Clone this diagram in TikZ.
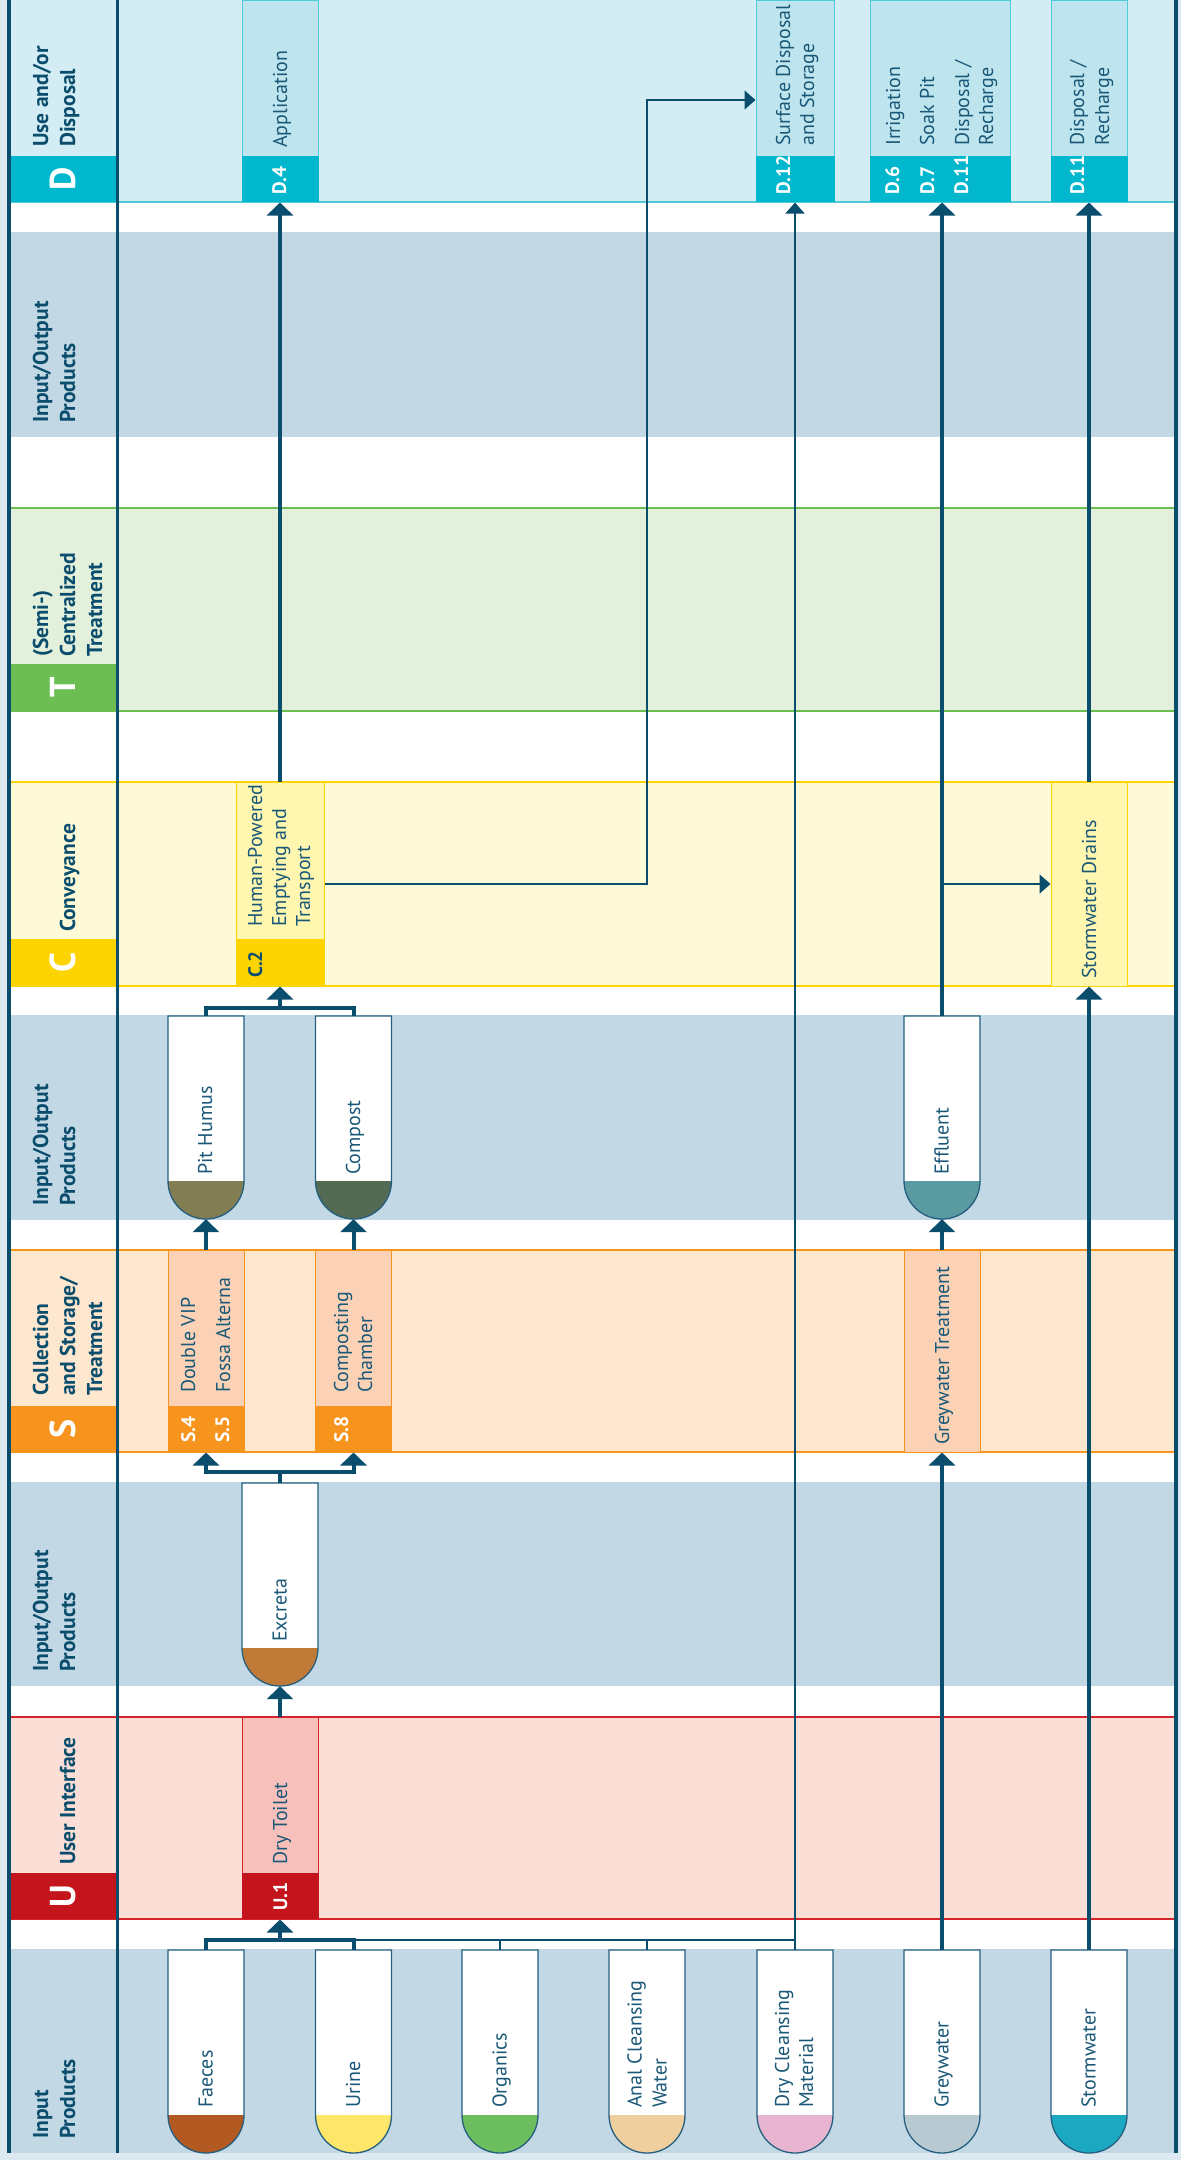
\documentclass[tikz,border=0pt]{standalone}
\usepackage{fontspec}
\setmainfont{PT Sans}
\usetikzlibrary{arrows.meta,fit}
\definecolor{frame}{HTML}{DDE9F1}
\definecolor{navy}{HTML}{0B4D6D}
\definecolor{txt}{HTML}{1A5878}
\definecolor{capedge}{HTML}{245F80}
\definecolor{ioband}{HTML}{C2D8E5}
\definecolor{dband}{HTML}{D4EDF4}
\definecolor{dline}{HTML}{4FCADB}
\definecolor{dlab}{HTML}{00B7CD}
\definecolor{dbox}{HTML}{BEE4ED}
\definecolor{tband}{HTML}{E3F0DC}
\definecolor{tline}{HTML}{6DBE52}
\definecolor{cband}{HTML}{FEFAD7}
\definecolor{cline}{HTML}{FDD300}
\definecolor{cbox}{HTML}{FFF6B0}
\definecolor{sband}{HTML}{FEE7CF}
\definecolor{sline}{HTML}{F7941E}
\definecolor{sbox}{HTML}{FBD2B6}
\definecolor{uband}{HTML}{FBDED5}
\definecolor{uline}{HTML}{D7232C}
\definecolor{ulab}{HTML}{C4141C}
\definecolor{ubox}{HTML}{F8C0BA}
\definecolor{cfaeces}{HTML}{B35A22}
\definecolor{curine}{HTML}{FEE66A}
\definecolor{corganics}{HTML}{6CBE5E}
\definecolor{canal}{HTML}{F0CF9F}
\definecolor{cdry}{HTML}{E8B5D0}
\definecolor{cgrey}{HTML}{B8C9D1}
\definecolor{cstorm}{HTML}{1DA8C1}
\definecolor{cexcreta}{HTML}{C07A38}
\definecolor{chumus}{HTML}{827D52}
\definecolor{ccompost}{HTML}{546A53}
\definecolor{ceffluent}{HTML}{5A9BA1}
\tikzset{
  bdtxt/.style={rotate=90,anchor=base west,inner sep=0pt,text=txt,font=\fontsize{20}{24}\selectfont},
  hdtxt/.style={rotate=90,anchor=base west,inner sep=0pt,text=navy,font=\fontsize{21.5}{25}\selectfont\bfseries},
  cdtxt/.style={rotate=90,anchor=base west,inner sep=0pt,text=white,font=\fontsize{19.5}{23}\selectfont\bfseries},
  bigletter/.style={rotate=90,anchor=center,inner sep=0pt,text=white,font=\fontsize{36}{40}\selectfont\bfseries},
  flow/.style={draw=navy,line width=4pt},
  thinflow/.style={draw=navy,line width=1.5pt},
  bigtip/.style={-{Triangle[width=26pt,length=13pt]}},
  smalltip/.style={-{Triangle[width=19pt,length=11pt]}},
  capline/.style={draw=capedge,line width=1.3pt},
}
% capsule: name, centre x, top y, bottom y, colour
\newcommand\mkcap[5]{%
  \node[inner sep=0pt,fit={({#2-38},#3) ({#2+38},#4)}] (#1) {};
  \fill[white] ({#2-38},#3) rectangle ({#2+38},{#4-38});
  \fill[#5] ({#2-38},{#4-38}) arc[start angle=180,end angle=0,radius=38] -- cycle;
  \draw[capline] ({#2-38},#3) -- ({#2-38},{#4-38}) arc[start angle=180,end angle=0,radius=38] -- ({#2+38},#3) -- cycle;}
% technology box: name, xl, yt, xr, yb, fill, border
\newcommand\mktbox[7]{%
  \node[draw=#7,fill=#6,line width=1pt,inner sep=0pt,fit={(#2,#3) (#4,#5)}] (#1) {};}
\begin{document}
\begin{tikzpicture}[x=1pt,y=-1pt]
\useasboundingbox (0,0) rectangle (1181,2160);
\fill[frame] (0,0) rectangle (1181,2160);
\fill[white] (9,0) rectangle (1177,2153);
% bands
\fill[dband] (11,0) rectangle (1176,202);
\draw[dline,line width=1.5pt] (11,202) -- (1176,202);
\fill[ioband] (11,232) rectangle (1176,437);
\fill[tband] (11,508) rectangle (1176,711);
\draw[tline,line width=1.5pt] (11,508) -- (1176,508) (11,711) -- (1176,711);
\fill[cband] (11,782) rectangle (1176,986);
\draw[cline,line width=1.5pt] (11,782) -- (1176,782) (11,986) -- (1176,986);
\fill[ioband] (11,1015) rectangle (1176,1220);
\fill[sband] (11,1250) rectangle (1176,1452);
\draw[sline,line width=1.5pt] (11,1250) -- (1176,1250) (11,1452) -- (1176,1452);
\fill[ioband] (11,1482) rectangle (1176,1686);
\fill[uband] (11,1717) rectangle (1176,1919);
\draw[uline,line width=1.5pt] (11,1717) -- (1176,1717) (11,1919) -- (1176,1919);
\fill[ioband] (11,1949) rectangle (1176,2153);
% header label blocks
\fill[dlab] (11,156) rectangle (116,202);
\fill[tline] (11,664) rectangle (116,711);
\fill[cline] (11,939) rectangle (116,986);
\fill[sline] (11,1406) rectangle (116,1452);
\fill[ulab] (11,1873) rectangle (116,1919);
% technology boxes
\mktbox{d4}{242}{0}{318}{202}{dbox}{dline}
\fill[dlab] (241.5,156) rectangle (318.5,202);
\mktbox{d12}{756}{0}{834}{202}{dbox}{dline}
\fill[dlab] (755.5,156) rectangle (834.5,202);
\mktbox{d6}{870}{0}{1010}{202}{dbox}{dline}
\fill[dlab] (869.5,156) rectangle (1010.5,202);
\mktbox{d11}{1051}{0}{1127}{202}{dbox}{dline}
\fill[dlab] (1050.5,156) rectangle (1127.5,202);
\mktbox{c2}{236}{782}{324}{986}{cbox}{cline}
\fill[cline] (235.5,939) rectangle (324.5,986);
\mktbox{sd}{1051}{782}{1127}{986}{cbox}{cline}
\mktbox{s45}{168}{1250}{244}{1452}{sbox}{sline}
\fill[sline] (167.5,1406) rectangle (244.5,1452);
\mktbox{s8}{315.5}{1250}{391.5}{1452}{sbox}{sline}
\fill[sline] (315,1406) rectangle (392,1452);
\mktbox{gt}{904}{1250}{980}{1452}{sbox}{sline}
\mktbox{u1}{242}{1717}{318}{1919}{ubox}{uline}
\fill[ulab] (241.5,1873) rectangle (318.5,1919);
% capsules
\mkcap{faeces}{206}{1950}{2153}{cfaeces}
\mkcap{urine}{353.5}{1950}{2153}{curine}
\mkcap{organics}{500}{1950}{2153}{corganics}
\mkcap{anal}{647}{1950}{2153}{canal}
\mkcap{dry}{795}{1950}{2153}{cdry}
\mkcap{greywater}{942}{1950}{2153}{cgrey}
\mkcap{stormwater}{1089}{1950}{2153}{cstorm}
\mkcap{excreta}{280}{1483}{1686}{cexcreta}
\mkcap{pithumus}{206}{1016}{1219}{chumus}
\mkcap{compost}{353.5}{1016}{1219}{ccompost}
\mkcap{effluent}{942}{1016}{1219}{ceffluent}
% connectors
\coordinate (uj) at (280,1940);
\draw[thinflow] (urine.north |- uj) -- (dry.north |- uj);
\draw[thinflow] (organics.north) -- (organics.north |- uj);
\draw[thinflow] (anal.north) -- (anal.north |- uj);
\draw[thinflow,smalltip] (dry.north) -- (dry.north |- d12.south);
\draw[flow] (faeces.north) -- (faeces.north |- uj) -- (urine.north |- uj) -- (urine.north);
\draw[flow,bigtip] (uj) -- (u1.south);
\draw[flow,bigtip] (u1.north) -- (excreta.south);
\coordinate (sj) at (280,1472);
\draw[flow] (excreta.north) -- (sj);
\draw[flow,bigtip] (sj) -| (s45.south);
\draw[flow,bigtip] (sj) -| (s8.south);
\draw[flow,bigtip] (s45.north) -- (pithumus.south);
\draw[flow,bigtip] (s8.north) -- (compost.south);
\coordinate (cj) at (280,1008);
\draw[flow] (pithumus.north) |- (cj) -| (compost.north);
\draw[flow,bigtip] (cj) -- (c2.south);
\draw[flow,bigtip] (c2.north) -- (d4.south);
\coordinate (k1) at (647,884);
\coordinate (k2) at (647,100);
\draw[thinflow,smalltip] (c2.east) -- (k1) -- (k2) -- (k2 -| d12.west);
\draw[flow,bigtip] (greywater.north) -- (gt.south);
\draw[flow,bigtip] (gt.north) -- (effluent.south);
\draw[flow,bigtip] (effluent.north) -- (effluent.north |- d6.south);
\draw[thinflow,smalltip] (effluent.north |- sd.west) -- (sd.west);
\draw[flow,bigtip] (stormwater.north) -- (sd.south);
\draw[flow,bigtip] (sd.north) -- (d11.south);
% header texts
\node[hdtxt] (hd1) at (48,147) {Use and/or};
\node[hdtxt] (hd2) at (75,147) {Disposal};
\node[hdtxt] (hio1a) at (48,423) {Input/Output};
\node[hdtxt] (hio1b) at (75,423) {Products};
\node[hdtxt] (ht1) at (48,657) {(Semi-)};
\node[hdtxt] (ht2) at (75,657) {Centralized};
\node[hdtxt] (ht3) at (102,657) {Treatment};
\node[hdtxt] (hc1) at (75,932) {Conveyance};
\node[hdtxt] (hio2a) at (48,1206) {Input/Output};
\node[hdtxt] (hio2b) at (75,1206) {Products};
\node[hdtxt] (hs1) at (48,1396) {Collection};
\node[hdtxt] (hs2) at (75,1396) {and Storage/};
\node[hdtxt] (hs3) at (102,1396) {Treatment};
\node[hdtxt] (hio3a) at (48,1672) {Input/Output};
\node[hdtxt] (hio3b) at (75,1672) {Products};
\node[hdtxt] (hu1) at (75,1865) {User Interface};
\node[hdtxt] (hip1) at (48,2139) {Input};
\node[hdtxt] (hip2) at (75,2139) {Products};
\node[bigletter] (ld) at (63,179) {D};
\node[bigletter] (lt) at (63,687.5) {T};
\node[bigletter] (lc) at (63,962.5) {C};
\node[bigletter] (ls) at (63,1429) {S};
\node[bigletter] (lu) at (63,1896) {U};
% codes
\node[cdtxt] (cd4) at (286,195) {D.4};
\node[cdtxt] (cd12) at (790,195) {D.12};
\node[cdtxt] (cd6) at (899,195) {D.6};
\node[cdtxt] (cd7) at (934,195) {D.7};
\node[cdtxt] (cd11a) at (968,195) {D.11};
\node[cdtxt] (cd11b) at (1084,195) {D.11};
\node[cdtxt,text=navy] (cc2) at (262,978) {C.2};
\node[cdtxt] (cs4) at (195,1443) {S.4};
\node[cdtxt] (cs5) at (229,1443) {S.5};
\node[cdtxt] (cs8) at (348,1443) {S.8};
\node[cdtxt] (cu1) at (287,1911) {U.1};
% technology names
\node[bdtxt] (tapp) at (287,148) {Application};
\node[bdtxt] (tsd1) at (790,146) {Surface Disposal};
\node[bdtxt] (tsd2) at (814,146) {and Storage};
\node[bdtxt] (tirr) at (900,146) {Irrigation};
\node[bdtxt] (tsoak) at (934,146) {Soak Pit};
\node[bdtxt] (tdis1) at (969,146) {Disposal /};
\node[bdtxt] (trec1) at (993,146) {Recharge};
\node[bdtxt] (tdis2) at (1084,146) {Disposal /};
\node[bdtxt] (trec2) at (1109,146) {Recharge};
\node[bdtxt] (thp1) at (262,927) {Human-Powered};
\node[bdtxt] (thp2) at (286,927) {Emptying and};
\node[bdtxt] (thp3) at (310,927) {Transport};
\node[bdtxt] (tsdr) at (1096,979) {Stormwater Drains};
\node[bdtxt] (tdv) at (195,1393) {Double VIP};
\node[bdtxt] (tfa) at (230,1393) {Fossa Alterna};
\node[bdtxt] (tcc1) at (348,1393) {Composting};
\node[bdtxt] (tcc2) at (372,1393) {Chamber};
\node[bdtxt] (tgt) at (949,1445) {Greywater Treatment};
\node[bdtxt] (tdt) at (287,1865) {Dry Toilet};
% product names
\node[bdtxt] (pfa) at (212.5,2108) {Faeces};
\node[bdtxt] (pur) at (360,2108) {Urine};
\node[bdtxt] (por) at (506.5,2108) {Organics};
\node[bdtxt] (pan1) at (641.5,2108) {Anal Cleansing};
\node[bdtxt] (pan2) at (666.5,2108) {Water};
\node[bdtxt] (pdr1) at (789,2108) {Dry Cleansing};
\node[bdtxt] (pdr2) at (813,2108) {Material};
\node[bdtxt] (pgr) at (948.5,2108) {Greywater};
\node[bdtxt] (pst) at (1095.5,2108) {Stormwater};
\node[bdtxt] (pex) at (286.5,1642) {Excreta};
\node[bdtxt] (pph) at (212,1175) {Pit Humus};
\node[bdtxt] (pco) at (360,1175) {Compost};
\node[bdtxt] (pef) at (948.5,1175) {Effluent};
% frame lines
\draw[navy,line width=4pt] (9,0) -- (9,2153);
\draw[navy,line width=3.5pt] (117.5,0) -- (117.5,2153);
\draw[navy,line width=3.5pt] (1176,0) -- (1176,2153);
\end{tikzpicture}
\end{document}
